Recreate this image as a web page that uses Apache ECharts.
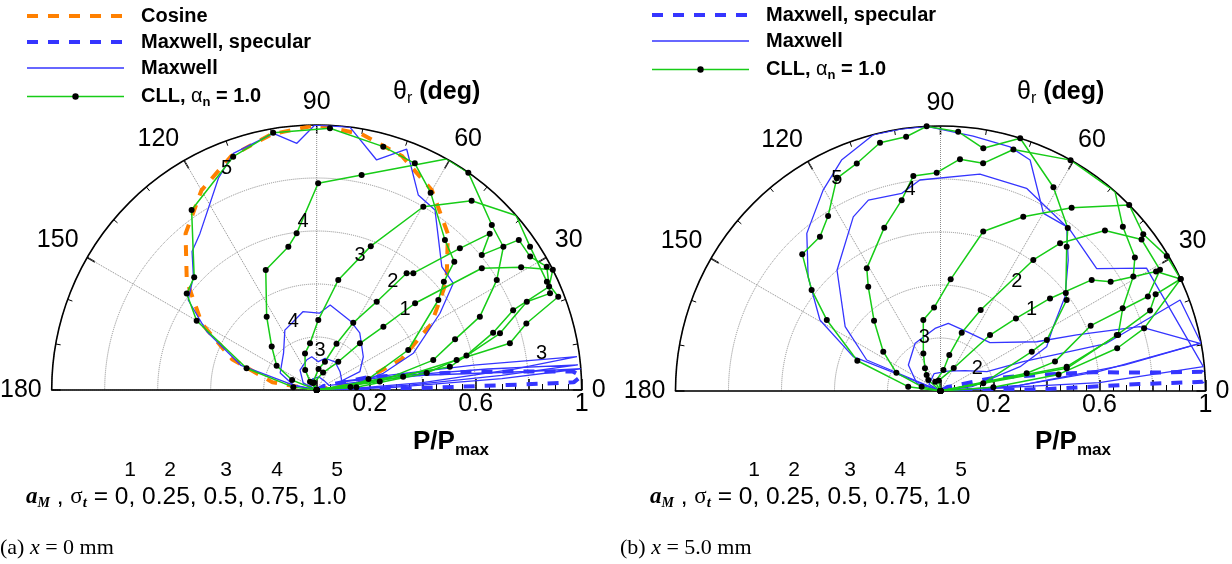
<!DOCTYPE html>
<html><head><meta charset="utf-8">
<script src="https://cdn.jsdelivr.net/npm/echarts@6/dist/echarts.min.js"></script>
<style>html,body{margin:0;padding:0;background:#fff}#c{width:1232px;height:564px}</style>
</head><body><div id="c"></div>
<script>
// ---------- data: [theta_r (deg), P/Pmax] ----------
const radialTickLabels = ['0.2', '0.6', '1'];
const seriesNames = ['Cosine', 'Maxwell, specular', 'Maxwell', 'CLL, αn = 1.0'];

// (a) x = 0 mm
const cosineA = [[0,0],[10,0.17],[20,0.34],[30,0.5],[40,0.64],[50,0.77],[60,0.87],[70,0.94],[80,0.98],[90,1.0],[100,0.98],[110,0.94],[120,0.87],[130,0.77],[140,0.64],[150,0.5],[160,0.34],[170,0.17],[180,0]];
const specA = [[0,0],[0.8,0.3],[1.5,0.72],[1.7,0.97],[3,1.0],[4.1,0.97],[5,0.8],[6.7,0.59],[9,0.38],[14,0.2],[30,0.03],[0,0]];
const maxwellA5 = [[180,0],[168,0.09],[162,0.3],[152,0.47],[145,0.592],[137.4,0.632],[132,0.703],[126.7,0.737],[114.9,0.881],[109.4,0.947],[99.6,0.982],[94.6,0.934],[90.4,1.0],[82.8,1.0],[75.4,0.897],[69.5,0.97],[62.5,0.83],[56.7,0.813],[44.6,0.663],[38,0.654],[31.9,0.548],[20.8,0.39],[14.1,0.259],[8.5,0.127],[0,0]];
const maxwellA4 = [[180,0],[168,0.09],[155,0.152],[132,0.187],[118,0.256],[110,0.27],[100,0.30],[88,0.29],[81,0.325],[64,0.29],[53,0.27],[35.5,0.216],[23,0.177],[19.6,0.093],[12,0.25],[9,0.6],[7.3,0.99],[6,0.75],[4,0.4],[2,0.12],[0,0]];
const maxwellA3 = [[180,0],[153,0.057],[130,0.098],[108,0.12],[98.5,0.127],[86.8,0.107],[75,0.124],[57,0.127],[38,0.112],[18,0.1],[10,0.3],[7,0.65],[5.5,0.99],[4.5,0.7],[3,0.35],[1,0.1],[0,0]];
const maxwellA2 = [[180,0],[150,0.03],[110,0.045],[80,0.05],[50,0.045],[20,0.05],[8,0.4],[5,0.8],[4.6,1.0],[3.5,0.7],[2,0.3],[0,0]];
const cllA5 = [[180,0],[173,0.089],[162.8,0.277],[150,0.523],[143.4,0.611],[137.4,0.628],[124.8,0.827],[109.7,0.935],[99.6,0.985],[87.1,0.989],[74.7,0.952],[66.6,0.932],[60,0.86],[49.5,0.745],[43,0.71],[40.4,0.63],[36.5,0.571],[23.6,0.377],[12,0.2],[5.2,0.128],[0,0]];
const cllA4 = [[180,0],[158,0.10],[148.7,0.177],[136,0.236],[124.3,0.335],[113,0.492],[101.2,0.551],[97.3,0.596],[89.6,0.78],[78.2,0.829],[60.7,1.0],[55.1,1.0],[43.3,0.908],[37.5,0.888],[31.4,0.796],[24.2,0.675],[20.1,0.556],[14.4,0.454],[7.6,0.24],[0,0]];
const cllA3 = [[180,0],[129,0.04],[120,0.087],[107.7,0.145],[98.2,0.178],[88.7,0.264],[78.9,0.423],[69.4,0.58],[59.8,0.80],[50.7,0.923],[41.2,1.0],[33.9,0.97],[25.2,0.96],[21.1,0.977],[17.6,0.83],[13.6,0.75],[12.1,0.54],[8.7,0.33],[0,0]];
const cllA2 = [[180,0],[120,0.03],[85,0.08],[73.7,0.111],[66.8,0.19],[61.5,0.289],[55.8,0.403],[52.4,0.556],[50.4,0.572],[44.7,0.76],[42.1,0.88],[39.3,0.805],[36.6,0.95],[32,0.95],[28.2,0.985],[22.5,0.953],[22.8,0.86],[17.2,0.724],[9.9,0.51],[0,0]];
const cllA1 = [[180,0],[110,0.03],[70,0.07],[52.6,0.134],[47.2,0.24],[43.5,0.347],[41.4,0.495],[36.4,0.774],[31,0.9],[27,1.0],[24,0.96],[22.1,0.80],[18,0.70],[13,0.58],[8.8,0.42],[4,0.15],[0,0]];
const curveLabelsA = [[112.1,0.903,'5'],[94.6,0.637,'4'],[108.9,0.272,'4'],[72.2,0.535,'3'],[85.3,0.151,'3'],[9.3,0.86,'3'],[54.9,0.499,'2'],[42.4,0.451,'1']];

// (b) x = 5.0 mm
const specB = [[0,0],[1,0.4],[2,0.75],[2,0.99],[3,1.0],[4.2,0.99],[5,0.8],[7,0.58],[9,0.4],[14,0.2],[30,0.03],[0,0]];
const maxwellB5 = [[180,0],[158.5,0.354],[149.5,0.528],[139.2,0.66],[130.3,0.78],[120.3,0.878],[113.2,0.948],[104.6,1.0],[98.7,1.0],[93,1.0],[82.7,0.97],[74.1,0.958],[68.8,0.935],[59.9,0.775],[52.5,0.782],[45.7,0.69],[37.1,0.589],[29.7,0.49],[22.6,0.434],[17,0.314],[8,0.12],[0,0]];
const maxwellB4 = [[180,0],[157.2,0.302],[146,0.434],[130.6,0.6],[116.6,0.735],[110.7,0.77],[101.1,0.76],[95.6,0.8],[79.7,0.832],[67,0.831],[51.2,0.78],[38.1,0.749],[30.8,0.905],[5.3,0.996],[3,0.6],[0,0]];
const maxwellB3 = [[180,0],[162,0.094],[141,0.156],[118,0.204],[95,0.237],[83.4,0.257],[66.2,0.245],[44.3,0.261],[27.1,0.408],[22.4,0.556],[17.9,0.79],[10.4,0.995],[7,0.6],[3,0.25],[0,0]];
const maxwellB2 = [[180,0],[150,0.05],[110,0.07],[70,0.08],[40,0.12],[22.7,0.19],[19.5,0.331],[16,0.65],[20.8,0.967],[10.4,1.0],[8,0.7],[4,0.3],[0,0]];
const cllB5 = [[180,0],[172.4,0.123],[160,0.334],[148,0.506],[141.9,0.618],[135.3,0.734],[128,0.739],[122.7,0.785],[116,0.893],[110.2,0.915],[103.7,0.964],[97.7,0.968],[93,1.0],[86.1,0.981],[80,0.93],[72.5,1.0],[61,0.879],[52,0.78],[48.8,0.723],[38,0.6],[35.8,0.587],[25.6,0.445],[23.3,0.375],[10.2,0.164],[0,0]];
const cllB4 = [[180,0],[167,0.073],[157.6,0.18],[145.5,0.262],[133.4,0.365],[124.7,0.479],[121,0.54],[109,0.652],[101.5,0.735],[97.2,0.818],[91,0.824],[85.2,0.878],[79.4,0.874],[73.2,0.952],[60.6,1.0],[48.8,1.0],[42,0.926],[34.5,0.89],[30.7,0.846],[24.4,0.755],[17.5,0.703],[10.9,0.485],[0,0]];
const cllB3 = [[180,0],[138,0.062],[130.8,0.08],[124.3,0.104],[114.5,0.156],[103.6,0.276],[94.4,0.316],[84.8,0.423],[75,0.623],[64.6,0.728],[54.4,0.85],[44.6,1.0],[37.7,0.967],[30.8,0.994],[25,1.0],[24.2,0.89],[21,0.847],[17.6,0.698],[10.2,0.484],[0,0]];
const cllB2 = [[180,0],[120,0.04],[82,0.08],[76.3,0.14],[70,0.234],[63.6,0.341],[54.7,0.606],[51,0.717],[44.3,0.867],[37,0.95],[28.9,0.946],[24.5,0.86],[23.5,0.618],[14.4,0.446],[11.6,0.332],[0,0]];
const cllB1 = [[180,0],[100,0.04],[60,0.1],[48.5,0.282],[43.9,0.395],[40.2,0.541],[36.3,0.708],[32.7,0.763],[29,0.93],[25,1.0],[17.1,0.804],[13.6,0.686],[8,0.45],[4,0.2],[0,0]];
const curveLabelsB = [[116,0.893,'5'],[98.6,0.77,'4'],[106.8,0.212,'3'],[55.1,0.503,'2'],[41.9,0.462,'1'],[31.7,0.163,'2']];

// bottom annotation texts
const paramNumbers = ['1', '2', '3', '4', '5'];
const paramValues = '= 0, 0.25, 0.5, 0.75, 1.0';
const captions = [['(a) ', 'x', ' = 0 mm'], ['(b) ', 'x', ' = 5.0 mm']];

// ---------- build ----------
const SANS = 'Liberation Sans, Arial, sans-serif';
const SERIF = 'Liberation Serif, Times New Roman, serif';
const C_ORANGE = '#ff8000', C_BLUE = '#3535ff', C_GREEN = '#17cc17';

const styles = {
  cos: {symbol: 'none', lineStyle: {color: C_ORANGE, width: 4, type: [11, 10]}, itemStyle: {color: C_ORANGE, opacity: 0}, z: 2},
  spec: {symbol: 'none', lineStyle: {color: C_BLUE, width: 4, type: [11, 10]}, itemStyle: {color: C_BLUE, opacity: 0}, z: 3},
  max: {symbol: 'none', lineStyle: {color: C_BLUE, width: 1.3}, itemStyle: {color: C_BLUE, opacity: 0}, z: 4},
  cll: {symbol: 'circle', symbolSize: 6, showSymbol: true, lineStyle: {color: C_GREEN, width: 1.5}, itemStyle: {color: '#000'}, z: 5}
};
function mk(name, pts, polarIndex, st) {
  return Object.assign({
    type: 'line', name: name, coordinateSystem: 'polar', polarIndex: polarIndex,
    data: pts.map(p => [p[1], p[0]]), animation: false, silent: true, smooth: false
  }, JSON.parse(JSON.stringify(st)));
}
function labelSeries(list, polarIndex) {
  return {
    type: 'scatter', coordinateSystem: 'polar', polarIndex: polarIndex, symbolSize: 1,
    itemStyle: {opacity: 0}, silent: true, animation: false, z: 10,
    data: list.map(l => ({value: [l[1], l[0]], label: {show: true, formatter: l[2], position: 'inside',
      color: '#000', fontSize: 20, fontFamily: SANS, opacity: 1}}))
  };
}
const series = [];
function addPlot(pi, cos, spec, maxs, clls, labels) {
  if (cos) series.push(mk(seriesNames[0], cos, pi, styles.cos));
  series.push(mk(seriesNames[1], spec, pi, styles.spec));
  maxs.forEach(m => series.push(mk(seriesNames[2], m, pi, styles.max)));
  clls.forEach(c => series.push(mk(seriesNames[3], c, pi, styles.cll)));
  series.push(labelSeries(labels, pi));
}
addPlot(0, cosineA, specA, [maxwellA5, maxwellA4, maxwellA3, maxwellA2], [cllA5, cllA4, cllA3, cllA2, cllA1], curveLabelsA);
addPlot(2, null, specB, [maxwellB5, maxwellB4, maxwellB3, maxwellB2], [cllB5, cllB4, cllB3, cllB2, cllB1], curveLabelsB);

const R = 265;
const centers = [[316.7, 390], [940.5, 391]];
const polar = [
  {center: centers[0], radius: R}, {center: centers[0], radius: R},
  {center: centers[1], radius: R}, {center: centers[1], radius: R}
];
function mainAngle(pi) {
  return {
    polarIndex: pi, type: 'value', min: 0, max: 180, interval: 30, startAngle: 0, endAngle: 180, clockwise: false,
    axisLine: {lineStyle: {color: '#000', width: 1.6}},
    axisTick: {inside: true, length: 9, lineStyle: {color: '#000', width: 1.5}},
    minorTick: {show: true, splitNumber: 3, length: 5, lineStyle: {color: '#000', width: 1}},
    splitLine: {show: true, lineStyle: {color: '#8a8a8a', type: 'dotted', width: 1}},
    axisLabel: {fontSize: 25, color: '#000', margin: 10, fontFamily: SANS}
  };
}
function mainRadius(pi) {
  return {
    polarIndex: pi, type: 'value', min: 0, max: 1, interval: 0.2,
    axisLine: {lineStyle: {color: '#000', width: 1.6}},
    axisTick: {show: true, length: 11, lineStyle: {color: '#000', width: 1.5}},
    minorTick: {show: true, splitNumber: 4, length: 6, lineStyle: {color: '#000', width: 1}},
    splitLine: {show: true, lineStyle: {color: '#8a8a8a', type: 'dotted', width: 1}},
    axisLabel: {fontSize: 25, color: '#000', margin: -27, fontFamily: SANS,
      formatter: v => { const s = String(parseFloat(v.toFixed(2))); return radialTickLabels.indexOf(s) >= 0 ? s : ''; }}
  };
}
function helperAngle(pi) {
  return {polarIndex: pi, type: 'value', min: 0, max: 180, startAngle: 180, endAngle: 0, clockwise: true, show: false};
}
function helperRadius(pi) {
  return {polarIndex: pi, type: 'value', min: 0, max: 1,
    axisLine: {lineStyle: {color: '#000', width: 1.6}}, axisTick: {show: false}, axisLabel: {show: false}, splitLine: {show: false}};
}

const legendRich = {
  b: {fontSize: 20, fontWeight: 'bold', fontFamily: SANS, color: '#000', lineHeight: 20},
  g: {fontSize: 20, fontWeight: 'normal', fontFamily: SANS, color: '#000', lineHeight: 20},
  s: {fontSize: 13, fontWeight: 'bold', fontFamily: SANS, color: '#000', lineHeight: 13, padding: [12, 0, 0, 0]}
};
function legendFmt(name) {
  if (name === seriesNames[3]) return '{b|CLL, }{g|α}{s|n}{b| = 1.0}';
  return '{b|' + name + '}';
}
function legend(left, top, names) {
  return {left: left, top: top, padding: 0, orient: 'vertical', itemWidth: 97, itemHeight: 8, itemGap: 6,
    selectedMode: false, data: names, formatter: legendFmt,
    lineStyle: {width: 'inherit', type: 'inherit'},
    textStyle: {padding: [0, 0, 0, 12], rich: legendRich}};
}

function richText(x, y, text, rich, align) {
  return {type: 'text', x: x, y: y, silent: true,
    style: {text: text, rich: rich, align: align || 'left', verticalAlign: 'middle', textAlign: align || 'left', textVerticalAlign: 'middle'}};
}
const richTitle = {
  t: {fontSize: 25, fontFamily: SANS, fill: '#000', lineHeight: 25},
  s: {fontSize: 16, fontFamily: SANS, fill: '#000', lineHeight: 16, padding: [14, 0, 0, 0]},
  d: {fontSize: 25, fontWeight: 'bold', fontFamily: SANS, fill: '#000', lineHeight: 25}
};
const richP = {
  d: {fontSize: 26, fontWeight: 'bold', fontFamily: SANS, fill: '#000', lineHeight: 26},
  s: {fontSize: 17, fontWeight: 'bold', fontFamily: SANS, fill: '#000', lineHeight: 17, padding: [16, 0, 0, 0]}
};
const richParam = {
  a: {fontSize: 23, fontWeight: 'bold', fontStyle: 'italic', fontFamily: SERIF, fill: '#000', lineHeight: 23},
  as: {fontSize: 14, fontWeight: 'bold', fontStyle: 'italic', fontFamily: SERIF, fill: '#000', lineHeight: 14, padding: [12, 0, 0, 0]},
  g: {fontSize: 23, fontFamily: SERIF, fill: '#000', lineHeight: 23},
  gs: {fontSize: 15, fontStyle: 'italic', fontWeight: 'bold', fontFamily: SERIF, fill: '#000', lineHeight: 15, padding: [12, 0, 0, 0]},
  n: {fontSize: 24.5, fontFamily: SANS, fill: '#000', lineHeight: 24}
};
const richCap = {
  n: {fontSize: 22, fontFamily: SERIF, fill: '#000', lineHeight: 22},
  i: {fontSize: 22, fontStyle: 'italic', fontFamily: SERIF, fill: '#000', lineHeight: 22}
};
const graphic = [];
const numX = [[130, 170, 226, 277, 337], [754, 794, 850, 900, 961]];
const baseX = [26, 650];
const titleX = [393, 1017];
const pX = [413, 1035];
[0, 1].forEach(k => {
  graphic.push(richText(titleX[k], 92, '{t|θ}{s|r}{d| (deg)}', richTitle));
  graphic.push(richText(pX[k], 442, '{d|P/P}{s|max}', richP));
  paramNumbers.forEach((n, i) => graphic.push({type: 'text', x: numX[k][i], y: 470, silent: true,
    style: {text: n, font: '21px ' + SANS, fill: '#000', align: 'center', verticalAlign: 'middle', textAlign: 'center', textVerticalAlign: 'middle'}}));
  graphic.push(richText(baseX[k], 497, '{a|a}{as|M}{n| , }{g|σ}{gs|t}{n| ' + paramValues + '}', richParam));
  graphic.push(richText(k === 0 ? 0 : 620, 548, '{n|' + captions[k][0] + '}{i|' + captions[k][1] + '}{n|' + captions[k][2] + '}', richCap));
});

const chart = echarts.init(document.getElementById('c'), null, {renderer: 'canvas'});
chart.setOption({
  backgroundColor: '#fff',
  animation: false,
  polar: polar,
  angleAxis: [mainAngle(0), helperAngle(1), mainAngle(2), helperAngle(3)],
  radiusAxis: [mainRadius(0), helperRadius(1), mainRadius(2), helperRadius(3)],
  legend: [legend(25, 6, seriesNames), legend(650, 5, seriesNames.slice(1))],
  series: series,
  graphic: graphic
});
</script></body></html>
